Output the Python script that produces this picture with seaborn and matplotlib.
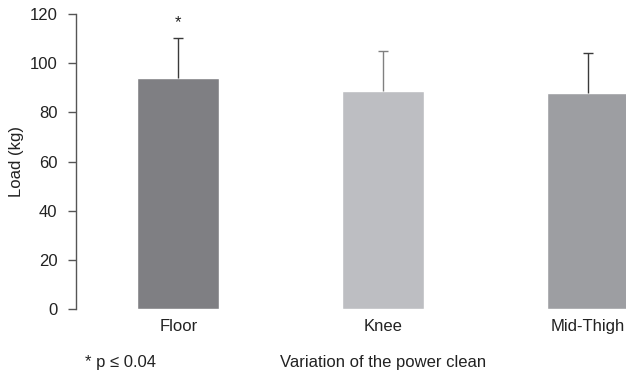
import matplotlib
matplotlib.use("Agg")
import matplotlib.pyplot as plt
import seaborn as sns
import pandas as pd

categories = ["Floor", "Knee", "Mid-Thigh"]
means = [94.0, 88.7, 87.9]
sd_upper = [16.3, 16.1, 16.1]
bar_colors = ["#7f7f83", "#bdbec2", "#9d9ea2"]
err_colors = ["#3a3a3a", "#808080", "#3a3a3a"]
yticks = [0, 20, 40, 60, 80, 100, 120]

sns.set_style("white")
plt.rcParams["font.family"] = ["Liberation Sans", "DejaVu Sans"]

FS = 12
TXT = "#222222"

fig = plt.figure(figsize=(6.26, 3.74), dpi=100)
ax = fig.add_axes([75.5 / 626, 1 - 309 / 374, 1 - 75.5 / 626, 295 / 374])

df = pd.DataFrame({"cat": categories, "val": means})
sns.barplot(data=df, x="cat", y="val", hue="cat", palette=bar_colors,
            width=0.4, legend=False, ax=ax, saturation=1)

for i, (m, e, c) in enumerate(zip(means, sd_upper, err_colors)):
    _, caps, _ = ax.errorbar(i, m, yerr=[[0], [e]], fmt="none", ecolor=c,
                             elinewidth=1.0, capsize=3.6, capthick=1.0)
    caps[0].set_visible(False)

ax.text(0, 116.3, "*", ha="center", va="center", fontsize=FS, color=TXT)

ax.set_xlim(-0.502, 2.185)
ax.set_ylim(0, 120)
ax.set_yticks(yticks)
ax.set_yticklabels([str(t) for t in yticks], fontsize=FS)
ax.tick_params(axis="y", left=True, direction="out", length=6, width=1,
               colors="#555555", labelcolor=TXT, pad=7)
ax.tick_params(axis="x", bottom=False, length=0, labelsize=FS,
               labelcolor=TXT, pad=7)
ax.set_xlabel("Variation of the power clean", fontsize=FS, color=TXT)
ax.xaxis.set_label_coords((383 - 75.5) / 550.5, (309 - 363) / 295)
ax.xaxis.label.set_va("center")
ax.set_ylabel("Load (kg)", fontsize=FS, color=TXT)
ax.yaxis.set_label_coords((16 - 75.5) / 550.5, 0.5)
ax.yaxis.label.set_va("center")
for s in ["top", "right", "bottom"]:
    ax.spines[s].set_visible(False)
ax.spines["left"].set_color("#555555")
ax.spines["left"].set_linewidth(1)

fig.text(85 / 626, 1 - 363 / 374, "* p \u2264 0.04", fontsize=FS,
         color=TXT, ha="left", va="center")

fig.savefig("out.png", dpi=100)
